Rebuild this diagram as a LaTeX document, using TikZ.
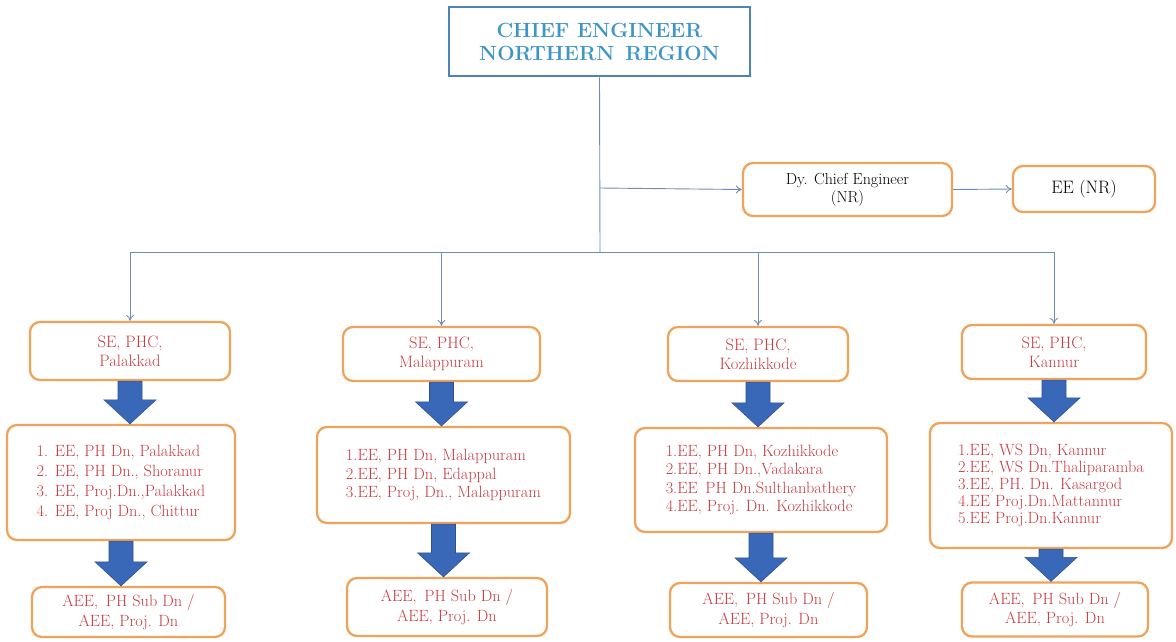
\documentclass[tikz,border=0pt]{standalone}
\usepackage{fontspec}
\usetikzlibrary{calc,arrows.meta}
\definecolor{chiefblue}{RGB}{79,129,189}
\definecolor{chieftext}{RGB}{62,150,200}
\definecolor{boxorange}{RGB}{240,163,90}
\definecolor{txtred}{RGB}{200,60,66}
\definecolor{linkblue}{RGB}{110,140,190}
\definecolor{bafill}{RGB}{58,104,184}
\definecolor{badraw}{RGB}{47,82,143}
\tikzset{
  orgbox/.style={draw=boxorange, line width=2.3pt, rounded corners=10pt, fill=white, align=center, inner sep=2pt},
  redtxt/.style={text=txtred},
  link/.style={draw=linkblue, line width=0.9pt, -{To[length=6pt,width=8pt]}},
  plainlink/.style={draw=linkblue, line width=0.9pt},
  bigarrow/.style={fill=bafill, draw=badraw, line width=0.6pt}
}
\newcommand{\barrow}[2]{%
  \path[bigarrow] let \p1=(#1.south), \p2=(#2.north) in
    (\x1-12pt,\y1) -- (\x1+12pt,\y1) -- (\x1+12pt,\y2+24pt) -- (\x1+26pt,\y2+24pt)
    -- (\x1,\y2) -- (\x1-26pt,\y2+24pt) -- (\x1-12pt,\y2+24pt) -- cycle;}
\begin{document}
\begin{tikzpicture}[x=1pt,y=-1pt]
\useasboundingbox[fill=white] (0,0) rectangle (1176,641);
% top
\node[draw=chiefblue, line width=2.6pt, minimum width=301pt, minimum height=69pt, align=center,
  text=chieftext, font=\fontsize{20.5}{23}\selectfont\bfseries] (chief) at (599.5,41.5)
  {CHIEF ENGINEER\\NORTHERN\, REGION};
\node[orgbox, minimum width=209pt, minimum height=53pt, font=\fontsize{16}{18}\selectfont] (dy) at (847.5,189.5)
  {Dy. Chief Engineer\\(NR)};
\node[orgbox, minimum width=142pt, minimum height=46pt, font=\fontsize{18}{20}\selectfont] (eenr) at (1084,189)
  {EE (NR)};
\coordinate (br) at (600,188);
\coordinate (hub) at (600,252);
\draw[plainlink] (chief.south) -- (hub);
\draw[link] (br) -- (dy.west);
\draw[link] (dy.east) -- (eenr.west);
% SE boxes
\begin{scope}[every node/.append style={orgbox, redtxt, font=\fontsize{16.5}{19}\selectfont}]
\node[minimum width=200pt, minimum height=58pt] (se1) at (130,351) {SE, PHC,\\Palakkad};
\node[minimum width=197pt, minimum height=54pt] (se2) at (441.5,354) {SE, PHC,\\Malappuram};
\node[minimum width=180pt, minimum height=54pt] (se3) at (758,354) {SE, PHC,\\Kozhikkode};
\node[minimum width=184pt, minimum height=54pt] (se4) at (1054,352) {SE, PHC,\\Kannur};
\end{scope}
\draw[link] (hub) -| (se1.north);
\draw[link] (hub) -| (se2.north);
\draw[link] (hub) -| (se3.north);
\draw[link] (hub) -| (se4.north);
% EE boxes
\node[orgbox, redtxt, align=left, minimum width=228pt, minimum height=115pt, font=\fontsize{16.3}{20}\selectfont] (ee1) at (121,482.5)
  {1. EE, PH Dn, Palakkad\\2. EE, PH Dn., Shoranur\\3. EE, Proj.Dn.,Palakkad\\4. EE, Proj Dn., Chittur};
\node[orgbox, redtxt, align=left, minimum width=253pt, minimum height=96pt, font=\fontsize{16.3}{18.5}\selectfont] (ee2) at (443.5,475)
  {1.EE, PH Dn, Malappuram\\2.EE, PH Dn, Edappal\\3.EE, Proj, Dn., Malappuram};
\node[orgbox, redtxt, align=left, minimum width=252pt, minimum height=104pt, font=\fontsize{16.3}{18.5}\selectfont] (ee3) at (761,480)
  {1.EE, PH Dn, Kozhikkode\\2.EE, PH Dn.,Vadakara\\3.EE\, PH Dn.Sulthanbathery\\4.EE, Proj. Dn. Kozhikkode};
\node[orgbox, redtxt, align=left, minimum width=242pt, minimum height=125pt, font=\fontsize{16.3}{17}\selectfont] (ee4) at (1051,485.5)
  {1.EE, WS Dn, Kannur\\2.EE, WS Dn.Thaliparamba\\3.EE, PH. Dn. Kasargod\\4.EE Proj.Dn.Mattannur\\5.EE Proj.Dn.Kannur};
% AEE boxes
\begin{scope}[every node/.append style={orgbox, redtxt, font=\fontsize{16.3}{19.5}\selectfont}]
\node[minimum width=193pt, minimum height=50pt] (aee1) at (128.5,612) {AEE,\, PH Sub Dn /\\AEE, Proj. Dn};
\node[minimum width=200pt, minimum height=58pt] (aee2) at (447,607) {AEE,\, PH Sub Dn /\\AEE, Proj. Dn};
\node[minimum width=197pt, minimum height=54pt] (aee3) at (768.5,610) {AEE,\, PH Sub Dn /\\AEE, Proj. Dn};
\node[minimum width=186pt, minimum height=54pt] (aee4) at (1055,609.5) {AEE,\, PH Sub Dn /\\AEE, Proj. Dn};
\end{scope}
% block arrows
\barrow{se1}{ee1}
\barrow{se2}{ee2}
\barrow{se3}{ee3}
\barrow{se4}{ee4}
\barrow{ee1}{aee1}
\barrow{ee2}{aee2}
\barrow{ee3}{aee3}
\barrow{ee4}{aee4}
\end{tikzpicture}
\end{document}
